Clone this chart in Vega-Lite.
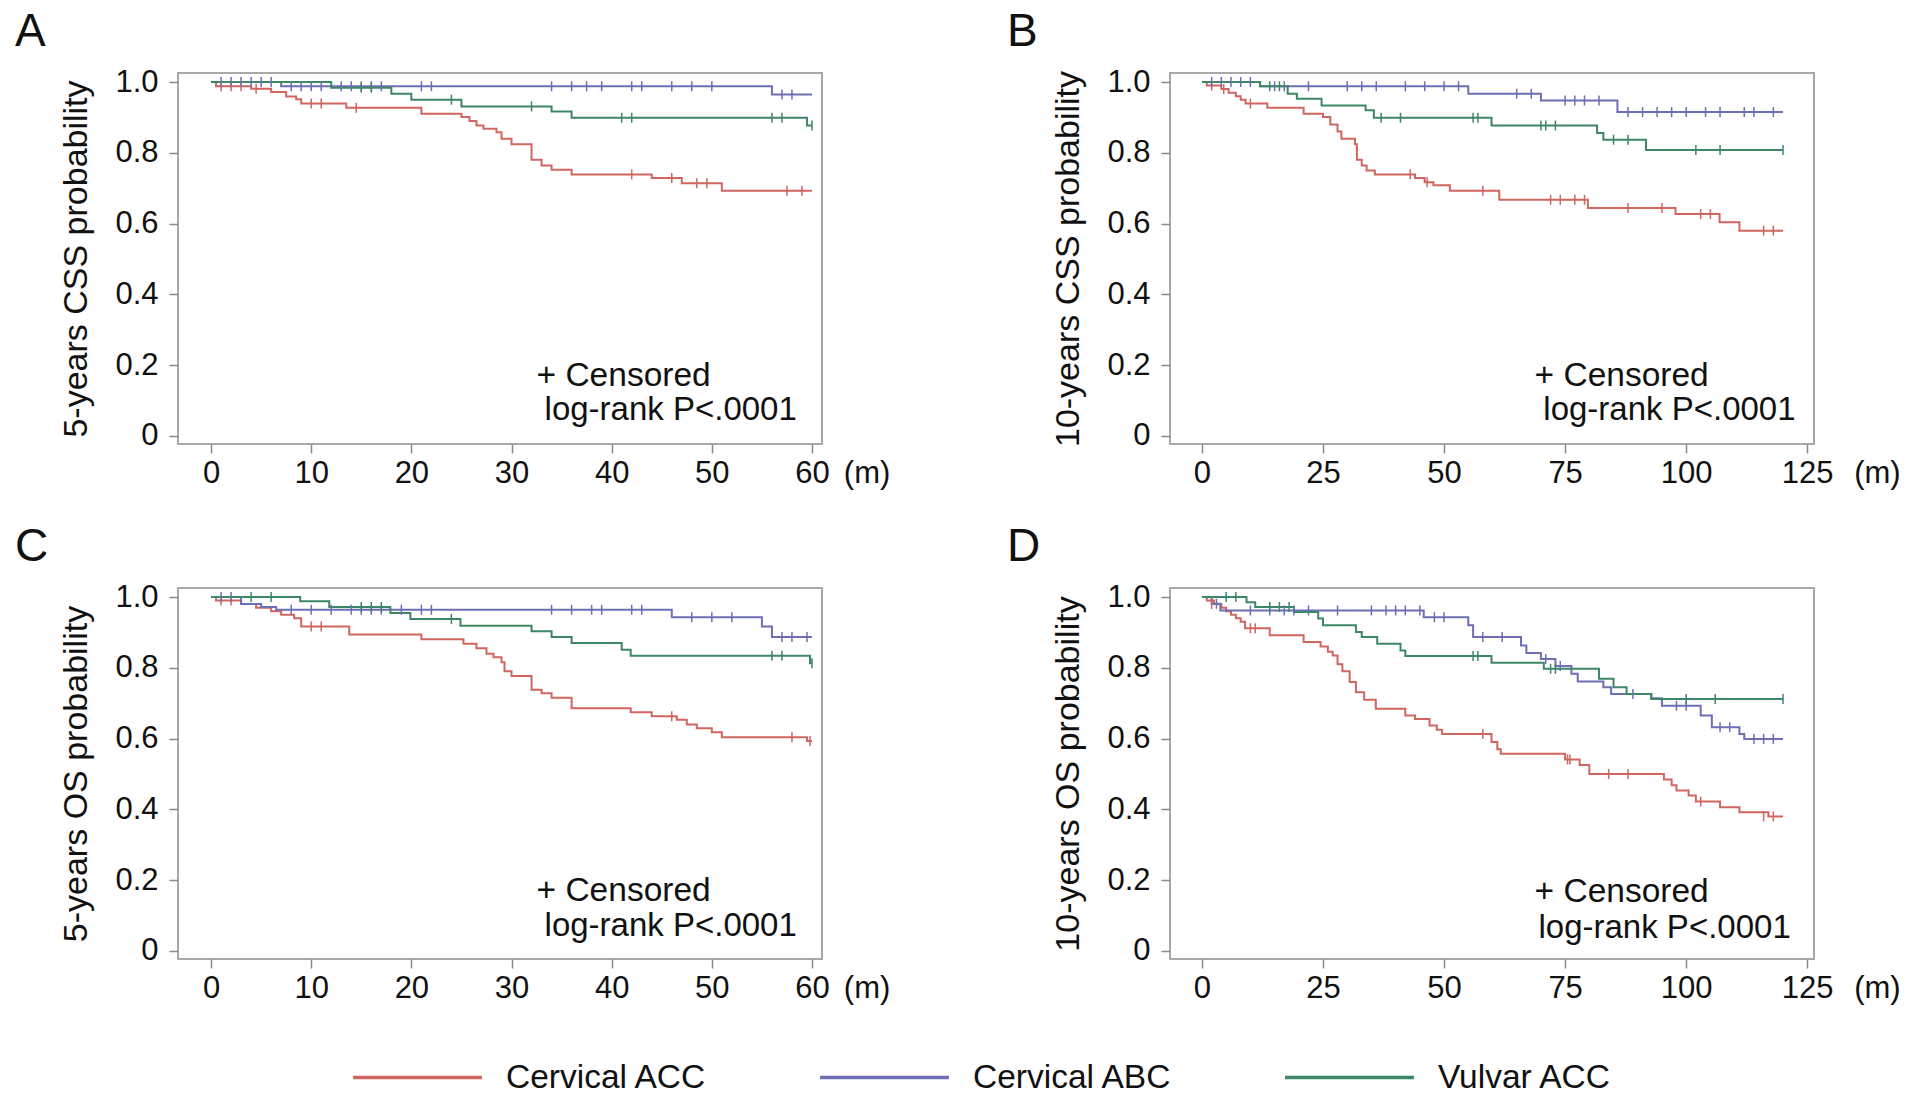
{
  "$schema": "https://vega.github.io/schema/vega-lite/v6.json",
  "padding": {"left": 13, "top": 8, "right": 0, "bottom": 0},
  "background": "white",
  "config": {
    "font": "Liberation Sans",
    "view": {"stroke": "#a8a8a8", "strokeWidth": 2},
    "axis": {"domain": false, "grid": false, "tickColor": "#8a8a8a", "tickSize": 9, "tickWidth": 1.5, "labelFontSize": 31, "labelColor": "#111", "titleFontSize": 34, "titleFontWeight": "normal", "titleColor": "#111", "titlePadding": 21},
    "axisX": {"labelPadding": 5},
    "axisY": {"labelPadding": 11},
    "title": {"anchor": "start", "fontSize": 46, "fontWeight": "normal", "color": "#111", "dx": -45, "offset": 10, "frame": "bounds"},
    "text": {"color": "#111"}
  },
  "columns": 2,
  "bounds": "flush",
  "spacing": {"row": 144, "column": 348},
  "resolve": {"scale": {"color": "shared"}},
  "datasets": {
    "steps": [
      {"p":"A","g":"Cervical ACC","t":0,"s":1},{"p":"A","g":"Cervical ACC","t":0.5,"s":0.988},{"p":"A","g":"Cervical ACC","t":4,"s":0.981},{"p":"A","g":"Cervical ACC","t":6,"s":0.972},{"p":"A","g":"Cervical ACC","t":7.5,"s":0.959},{"p":"A","g":"Cervical ACC","t":8.5,"s":0.951},{"p":"A","g":"Cervical ACC","t":9,"s":0.939},{"p":"A","g":"Cervical ACC","t":13.5,"s":0.927},{"p":"A","g":"Cervical ACC","t":21,"s":0.91},{"p":"A","g":"Cervical ACC","t":25,"s":0.901},{"p":"A","g":"Cervical ACC","t":25.8,"s":0.89},{"p":"A","g":"Cervical ACC","t":26.5,"s":0.877},{"p":"A","g":"Cervical ACC","t":27.2,"s":0.868},{"p":"A","g":"Cervical ACC","t":28.5,"s":0.858},{"p":"A","g":"Cervical ACC","t":29,"s":0.84},{"p":"A","g":"Cervical ACC","t":30,"s":0.824},{"p":"A","g":"Cervical ACC","t":32,"s":0.78},{"p":"A","g":"Cervical ACC","t":33,"s":0.764},{"p":"A","g":"Cervical ACC","t":34,"s":0.752},{"p":"A","g":"Cervical ACC","t":36,"s":0.739},{"p":"A","g":"Cervical ACC","t":44,"s":0.729},{"p":"A","g":"Cervical ACC","t":47,"s":0.714},{"p":"A","g":"Cervical ACC","t":51,"s":0.693},{"p":"A","g":"Cervical ACC","t":60,"s":0.693},
      {"p":"A","g":"Cervical ABC","t":0,"s":1},{"p":"A","g":"Cervical ABC","t":7,"s":0.988},{"p":"A","g":"Cervical ABC","t":56,"s":0.965},{"p":"A","g":"Cervical ABC","t":60,"s":0.965},
      {"p":"A","g":"Vulvar ACC","t":0,"s":1},{"p":"A","g":"Vulvar ACC","t":12,"s":0.984},{"p":"A","g":"Vulvar ACC","t":18,"s":0.967},{"p":"A","g":"Vulvar ACC","t":20,"s":0.95},{"p":"A","g":"Vulvar ACC","t":25,"s":0.931},{"p":"A","g":"Vulvar ACC","t":34,"s":0.917},{"p":"A","g":"Vulvar ACC","t":36,"s":0.899},{"p":"A","g":"Vulvar ACC","t":59.5,"s":0.877},{"p":"A","g":"Vulvar ACC","t":60,"s":0.877},

      {"p":"B","g":"Cervical ACC","t":0,"s":1},{"p":"B","g":"Cervical ACC","t":1,"s":0.99},{"p":"B","g":"Cervical ACC","t":4,"s":0.98},{"p":"B","g":"Cervical ACC","t":5.5,"s":0.97},{"p":"B","g":"Cervical ACC","t":7,"s":0.96},{"p":"B","g":"Cervical ACC","t":8,"s":0.95},{"p":"B","g":"Cervical ACC","t":9,"s":0.939},{"p":"B","g":"Cervical ACC","t":13.5,"s":0.927},{"p":"B","g":"Cervical ACC","t":21,"s":0.91},{"p":"B","g":"Cervical ACC","t":25,"s":0.901},{"p":"B","g":"Cervical ACC","t":26.5,"s":0.88},{"p":"B","g":"Cervical ACC","t":28,"s":0.86},{"p":"B","g":"Cervical ACC","t":28.8,"s":0.84},{"p":"B","g":"Cervical ACC","t":31.6,"s":0.824},{"p":"B","g":"Cervical ACC","t":32,"s":0.78},{"p":"B","g":"Cervical ACC","t":33,"s":0.764},{"p":"B","g":"Cervical ACC","t":34,"s":0.75},{"p":"B","g":"Cervical ACC","t":35.7,"s":0.739},{"p":"B","g":"Cervical ACC","t":44,"s":0.729},{"p":"B","g":"Cervical ACC","t":46,"s":0.717},{"p":"B","g":"Cervical ACC","t":47.8,"s":0.708},{"p":"B","g":"Cervical ACC","t":51.2,"s":0.693},{"p":"B","g":"Cervical ACC","t":61.4,"s":0.667},{"p":"B","g":"Cervical ACC","t":79.7,"s":0.644},{"p":"B","g":"Cervical ACC","t":97.8,"s":0.627},{"p":"B","g":"Cervical ACC","t":106.9,"s":0.604},{"p":"B","g":"Cervical ACC","t":111,"s":0.58},{"p":"B","g":"Cervical ACC","t":120,"s":0.58},
      {"p":"B","g":"Cervical ABC","t":0,"s":1},{"p":"B","g":"Cervical ABC","t":12,"s":0.988},{"p":"B","g":"Cervical ABC","t":55,"s":0.967},{"p":"B","g":"Cervical ABC","t":70,"s":0.948},{"p":"B","g":"Cervical ABC","t":85.8,"s":0.915},{"p":"B","g":"Cervical ABC","t":120,"s":0.915},
      {"p":"B","g":"Vulvar ACC","t":0,"s":1},{"p":"B","g":"Vulvar ACC","t":12,"s":0.988},{"p":"B","g":"Vulvar ACC","t":17.7,"s":0.967},{"p":"B","g":"Vulvar ACC","t":19.6,"s":0.953},{"p":"B","g":"Vulvar ACC","t":24.7,"s":0.934},{"p":"B","g":"Vulvar ACC","t":33.8,"s":0.92},{"p":"B","g":"Vulvar ACC","t":35.5,"s":0.899},{"p":"B","g":"Vulvar ACC","t":59.8,"s":0.877},{"p":"B","g":"Vulvar ACC","t":81.6,"s":0.856},{"p":"B","g":"Vulvar ACC","t":82.9,"s":0.837},{"p":"B","g":"Vulvar ACC","t":91.7,"s":0.808},{"p":"B","g":"Vulvar ACC","t":120,"s":0.808},

      {"p":"C","g":"Cervical ACC","t":0,"s":1},{"p":"C","g":"Cervical ACC","t":0.5,"s":0.99},{"p":"C","g":"Cervical ACC","t":3,"s":0.98},{"p":"C","g":"Cervical ACC","t":4.5,"s":0.97},{"p":"C","g":"Cervical ACC","t":6,"s":0.96},{"p":"C","g":"Cervical ACC","t":7,"s":0.95},{"p":"C","g":"Cervical ACC","t":8.3,"s":0.94},{"p":"C","g":"Cervical ACC","t":9,"s":0.917},{"p":"C","g":"Cervical ACC","t":13.8,"s":0.894},{"p":"C","g":"Cervical ACC","t":21,"s":0.881},{"p":"C","g":"Cervical ACC","t":25.2,"s":0.868},{"p":"C","g":"Cervical ACC","t":26.5,"s":0.855},{"p":"C","g":"Cervical ACC","t":27.5,"s":0.84},{"p":"C","g":"Cervical ACC","t":28.2,"s":0.83},{"p":"C","g":"Cervical ACC","t":29,"s":0.816},{"p":"C","g":"Cervical ACC","t":29.3,"s":0.79},{"p":"C","g":"Cervical ACC","t":30,"s":0.777},{"p":"C","g":"Cervical ACC","t":32,"s":0.738},{"p":"C","g":"Cervical ACC","t":33,"s":0.728},{"p":"C","g":"Cervical ACC","t":34,"s":0.715},{"p":"C","g":"Cervical ACC","t":36,"s":0.686},{"p":"C","g":"Cervical ACC","t":41.9,"s":0.674},{"p":"C","g":"Cervical ACC","t":44,"s":0.663},{"p":"C","g":"Cervical ACC","t":46.5,"s":0.653},{"p":"C","g":"Cervical ACC","t":47.5,"s":0.64},{"p":"C","g":"Cervical ACC","t":48.5,"s":0.629},{"p":"C","g":"Cervical ACC","t":50,"s":0.618},{"p":"C","g":"Cervical ACC","t":51,"s":0.604},{"p":"C","g":"Cervical ACC","t":59.5,"s":0.593},{"p":"C","g":"Cervical ACC","t":60,"s":0.593},
      {"p":"C","g":"Cervical ABC","t":0,"s":1},{"p":"C","g":"Cervical ABC","t":3,"s":0.98},{"p":"C","g":"Cervical ABC","t":5,"s":0.972},{"p":"C","g":"Cervical ABC","t":6.5,"s":0.964},{"p":"C","g":"Cervical ABC","t":46,"s":0.943},{"p":"C","g":"Cervical ABC","t":55,"s":0.917},{"p":"C","g":"Cervical ABC","t":56,"s":0.887},{"p":"C","g":"Cervical ABC","t":60,"s":0.887},
      {"p":"C","g":"Vulvar ACC","t":0,"s":1},{"p":"C","g":"Vulvar ACC","t":8.9,"s":0.988},{"p":"C","g":"Vulvar ACC","t":11.8,"s":0.972},{"p":"C","g":"Vulvar ACC","t":17.9,"s":0.955},{"p":"C","g":"Vulvar ACC","t":19.9,"s":0.938},{"p":"C","g":"Vulvar ACC","t":24.9,"s":0.919},{"p":"C","g":"Vulvar ACC","t":32,"s":0.903},{"p":"C","g":"Vulvar ACC","t":34,"s":0.887},{"p":"C","g":"Vulvar ACC","t":36,"s":0.87},{"p":"C","g":"Vulvar ACC","t":41,"s":0.851},{"p":"C","g":"Vulvar ACC","t":41.9,"s":0.834},{"p":"C","g":"Vulvar ACC","t":59.8,"s":0.813},{"p":"C","g":"Vulvar ACC","t":60,"s":0.813},

      {"p":"D","g":"Cervical ACC","t":0,"s":1},{"p":"D","g":"Cervical ACC","t":1,"s":0.99},{"p":"D","g":"Cervical ACC","t":2.5,"s":0.98},{"p":"D","g":"Cervical ACC","t":4,"s":0.97},{"p":"D","g":"Cervical ACC","t":5,"s":0.96},{"p":"D","g":"Cervical ACC","t":6,"s":0.95},{"p":"D","g":"Cervical ACC","t":7,"s":0.94},{"p":"D","g":"Cervical ACC","t":8,"s":0.93},{"p":"D","g":"Cervical ACC","t":8.9,"s":0.912},{"p":"D","g":"Cervical ACC","t":14,"s":0.892},{"p":"D","g":"Cervical ACC","t":21,"s":0.873},{"p":"D","g":"Cervical ACC","t":24.5,"s":0.86},{"p":"D","g":"Cervical ACC","t":26,"s":0.845},{"p":"D","g":"Cervical ACC","t":27,"s":0.835},{"p":"D","g":"Cervical ACC","t":28,"s":0.81},{"p":"D","g":"Cervical ACC","t":29,"s":0.79},{"p":"D","g":"Cervical ACC","t":30.5,"s":0.76},{"p":"D","g":"Cervical ACC","t":31.8,"s":0.731},{"p":"D","g":"Cervical ACC","t":33.5,"s":0.71},{"p":"D","g":"Cervical ACC","t":35.9,"s":0.684},{"p":"D","g":"Cervical ACC","t":42,"s":0.665},{"p":"D","g":"Cervical ACC","t":44,"s":0.655},{"p":"D","g":"Cervical ACC","t":47,"s":0.637},{"p":"D","g":"Cervical ACC","t":48.5,"s":0.625},{"p":"D","g":"Cervical ACC","t":49.6,"s":0.613},{"p":"D","g":"Cervical ACC","t":59.8,"s":0.59},{"p":"D","g":"Cervical ACC","t":61,"s":0.57},{"p":"D","g":"Cervical ACC","t":61.7,"s":0.557},{"p":"D","g":"Cervical ACC","t":75,"s":0.541},{"p":"D","g":"Cervical ACC","t":78,"s":0.525},{"p":"D","g":"Cervical ACC","t":80,"s":0.5},{"p":"D","g":"Cervical ACC","t":95.4,"s":0.484},{"p":"D","g":"Cervical ACC","t":97,"s":0.468},{"p":"D","g":"Cervical ACC","t":98,"s":0.453},{"p":"D","g":"Cervical ACC","t":100.5,"s":0.439},{"p":"D","g":"Cervical ACC","t":102,"s":0.422},{"p":"D","g":"Cervical ACC","t":107,"s":0.406},{"p":"D","g":"Cervical ACC","t":111,"s":0.392},{"p":"D","g":"Cervical ACC","t":117,"s":0.38},{"p":"D","g":"Cervical ACC","t":120,"s":0.38},
      {"p":"D","g":"Cervical ABC","t":0,"s":1},{"p":"D","g":"Cervical ABC","t":2,"s":0.981},{"p":"D","g":"Cervical ABC","t":3.8,"s":0.962},{"p":"D","g":"Cervical ABC","t":45.8,"s":0.943},{"p":"D","g":"Cervical ABC","t":55,"s":0.92},{"p":"D","g":"Cervical ABC","t":56,"s":0.887},{"p":"D","g":"Cervical ABC","t":65.9,"s":0.863},{"p":"D","g":"Cervical ABC","t":67,"s":0.842},{"p":"D","g":"Cervical ABC","t":70,"s":0.825},{"p":"D","g":"Cervical ABC","t":73,"s":0.805},{"p":"D","g":"Cervical ABC","t":76.3,"s":0.783},{"p":"D","g":"Cervical ABC","t":77.6,"s":0.761},{"p":"D","g":"Cervical ABC","t":82.9,"s":0.745},{"p":"D","g":"Cervical ABC","t":84.5,"s":0.726},{"p":"D","g":"Cervical ABC","t":92.8,"s":0.714},{"p":"D","g":"Cervical ABC","t":95,"s":0.693},{"p":"D","g":"Cervical ABC","t":103,"s":0.665},{"p":"D","g":"Cervical ABC","t":105.3,"s":0.632},{"p":"D","g":"Cervical ABC","t":111,"s":0.613},{"p":"D","g":"Cervical ABC","t":112,"s":0.599},{"p":"D","g":"Cervical ABC","t":120,"s":0.599},
      {"p":"D","g":"Vulvar ACC","t":0,"s":1},{"p":"D","g":"Vulvar ACC","t":9.2,"s":0.985},{"p":"D","g":"Vulvar ACC","t":11,"s":0.972},{"p":"D","g":"Vulvar ACC","t":19,"s":0.958},{"p":"D","g":"Vulvar ACC","t":24,"s":0.939},{"p":"D","g":"Vulvar ACC","t":25,"s":0.92},{"p":"D","g":"Vulvar ACC","t":31.8,"s":0.901},{"p":"D","g":"Vulvar ACC","t":33,"s":0.887},{"p":"D","g":"Vulvar ACC","t":36.2,"s":0.868},{"p":"D","g":"Vulvar ACC","t":41,"s":0.849},{"p":"D","g":"Vulvar ACC","t":42,"s":0.833},{"p":"D","g":"Vulvar ACC","t":59.8,"s":0.814},{"p":"D","g":"Vulvar ACC","t":70.6,"s":0.797},{"p":"D","g":"Vulvar ACC","t":82,"s":0.769},{"p":"D","g":"Vulvar ACC","t":85,"s":0.745},{"p":"D","g":"Vulvar ACC","t":87.7,"s":0.726},{"p":"D","g":"Vulvar ACC","t":92.8,"s":0.712},{"p":"D","g":"Vulvar ACC","t":120,"s":0.712}
    ],
    "cens": [
      {"p":"A","g":"Cervical ACC","t":1,"s":0.988},{"p":"A","g":"Cervical ACC","t":2,"s":0.988},{"p":"A","g":"Cervical ACC","t":3,"s":0.988},{"p":"A","g":"Cervical ACC","t":4.5,"s":0.981},{"p":"A","g":"Cervical ACC","t":10,"s":0.939},{"p":"A","g":"Cervical ACC","t":11,"s":0.939},{"p":"A","g":"Cervical ACC","t":14.5,"s":0.927},{"p":"A","g":"Cervical ACC","t":42,"s":0.739},{"p":"A","g":"Cervical ACC","t":46,"s":0.729},{"p":"A","g":"Cervical ACC","t":48.5,"s":0.714},{"p":"A","g":"Cervical ACC","t":49.5,"s":0.714},{"p":"A","g":"Cervical ACC","t":57.5,"s":0.693},{"p":"A","g":"Cervical ACC","t":59,"s":0.693},
      {"p":"A","g":"Cervical ABC","t":1,"s":1},{"p":"A","g":"Cervical ABC","t":2,"s":1},{"p":"A","g":"Cervical ABC","t":3,"s":1},{"p":"A","g":"Cervical ABC","t":4,"s":1},{"p":"A","g":"Cervical ABC","t":5,"s":1},{"p":"A","g":"Cervical ABC","t":6,"s":1},{"p":"A","g":"Cervical ABC","t":8,"s":0.988},{"p":"A","g":"Cervical ABC","t":9,"s":0.988},{"p":"A","g":"Cervical ABC","t":10,"s":0.988},{"p":"A","g":"Cervical ABC","t":11,"s":0.988},{"p":"A","g":"Cervical ABC","t":13,"s":0.988},{"p":"A","g":"Cervical ABC","t":14,"s":0.988},{"p":"A","g":"Cervical ABC","t":15,"s":0.988},{"p":"A","g":"Cervical ABC","t":16,"s":0.988},{"p":"A","g":"Cervical ABC","t":17,"s":0.988},{"p":"A","g":"Cervical ABC","t":21,"s":0.988},{"p":"A","g":"Cervical ABC","t":22,"s":0.988},{"p":"A","g":"Cervical ABC","t":34,"s":0.988},{"p":"A","g":"Cervical ABC","t":36,"s":0.988},{"p":"A","g":"Cervical ABC","t":37.5,"s":0.988},{"p":"A","g":"Cervical ABC","t":39,"s":0.988},{"p":"A","g":"Cervical ABC","t":42,"s":0.988},{"p":"A","g":"Cervical ABC","t":43,"s":0.988},{"p":"A","g":"Cervical ABC","t":46,"s":0.988},{"p":"A","g":"Cervical ABC","t":48,"s":0.988},{"p":"A","g":"Cervical ABC","t":50,"s":0.988},{"p":"A","g":"Cervical ABC","t":57,"s":0.965},{"p":"A","g":"Cervical ABC","t":58,"s":0.965},
      {"p":"A","g":"Vulvar ACC","t":15,"s":0.984},{"p":"A","g":"Vulvar ACC","t":16,"s":0.984},{"p":"A","g":"Vulvar ACC","t":24,"s":0.95},{"p":"A","g":"Vulvar ACC","t":32,"s":0.931},{"p":"A","g":"Vulvar ACC","t":41,"s":0.899},{"p":"A","g":"Vulvar ACC","t":42,"s":0.899},{"p":"A","g":"Vulvar ACC","t":56,"s":0.899},{"p":"A","g":"Vulvar ACC","t":57,"s":0.899},{"p":"A","g":"Vulvar ACC","t":60,"s":0.877},

      {"p":"B","g":"Cervical ACC","t":2,"s":0.99},{"p":"B","g":"Cervical ACC","t":4.5,"s":0.98},{"p":"B","g":"Cervical ACC","t":10,"s":0.939},{"p":"B","g":"Cervical ACC","t":43,"s":0.739},{"p":"B","g":"Cervical ACC","t":46.5,"s":0.717},{"p":"B","g":"Cervical ACC","t":58,"s":0.693},{"p":"B","g":"Cervical ACC","t":72,"s":0.667},{"p":"B","g":"Cervical ACC","t":74,"s":0.667},{"p":"B","g":"Cervical ACC","t":77,"s":0.667},{"p":"B","g":"Cervical ACC","t":79,"s":0.667},{"p":"B","g":"Cervical ACC","t":88,"s":0.644},{"p":"B","g":"Cervical ACC","t":95,"s":0.644},{"p":"B","g":"Cervical ACC","t":103,"s":0.627},{"p":"B","g":"Cervical ACC","t":105,"s":0.627},{"p":"B","g":"Cervical ACC","t":116,"s":0.58},{"p":"B","g":"Cervical ACC","t":118,"s":0.58},
      {"p":"B","g":"Cervical ABC","t":2,"s":1},{"p":"B","g":"Cervical ABC","t":4,"s":1},{"p":"B","g":"Cervical ABC","t":6,"s":1},{"p":"B","g":"Cervical ABC","t":8,"s":1},{"p":"B","g":"Cervical ABC","t":10,"s":1},{"p":"B","g":"Cervical ABC","t":15,"s":0.988},{"p":"B","g":"Cervical ABC","t":17,"s":0.988},{"p":"B","g":"Cervical ABC","t":22,"s":0.988},{"p":"B","g":"Cervical ABC","t":30,"s":0.988},{"p":"B","g":"Cervical ABC","t":33,"s":0.988},{"p":"B","g":"Cervical ABC","t":36,"s":0.988},{"p":"B","g":"Cervical ABC","t":42,"s":0.988},{"p":"B","g":"Cervical ABC","t":46,"s":0.988},{"p":"B","g":"Cervical ABC","t":50,"s":0.988},{"p":"B","g":"Cervical ABC","t":53,"s":0.988},{"p":"B","g":"Cervical ABC","t":65,"s":0.967},{"p":"B","g":"Cervical ABC","t":68,"s":0.967},{"p":"B","g":"Cervical ABC","t":75,"s":0.948},{"p":"B","g":"Cervical ABC","t":77,"s":0.948},{"p":"B","g":"Cervical ABC","t":79,"s":0.948},{"p":"B","g":"Cervical ABC","t":82,"s":0.948},{"p":"B","g":"Cervical ABC","t":88,"s":0.915},{"p":"B","g":"Cervical ABC","t":91,"s":0.915},{"p":"B","g":"Cervical ABC","t":94,"s":0.915},{"p":"B","g":"Cervical ABC","t":97,"s":0.915},{"p":"B","g":"Cervical ABC","t":100,"s":0.915},{"p":"B","g":"Cervical ABC","t":104,"s":0.915},{"p":"B","g":"Cervical ABC","t":107,"s":0.915},{"p":"B","g":"Cervical ABC","t":112,"s":0.915},{"p":"B","g":"Cervical ABC","t":114,"s":0.915},{"p":"B","g":"Cervical ABC","t":118,"s":0.915},
      {"p":"B","g":"Vulvar ACC","t":14,"s":0.988},{"p":"B","g":"Vulvar ACC","t":16,"s":0.988},{"p":"B","g":"Vulvar ACC","t":37,"s":0.899},{"p":"B","g":"Vulvar ACC","t":41,"s":0.899},{"p":"B","g":"Vulvar ACC","t":56,"s":0.899},{"p":"B","g":"Vulvar ACC","t":57,"s":0.899},{"p":"B","g":"Vulvar ACC","t":70,"s":0.877},{"p":"B","g":"Vulvar ACC","t":71,"s":0.877},{"p":"B","g":"Vulvar ACC","t":73,"s":0.877},{"p":"B","g":"Vulvar ACC","t":85,"s":0.837},{"p":"B","g":"Vulvar ACC","t":88,"s":0.837},{"p":"B","g":"Vulvar ACC","t":102,"s":0.808},{"p":"B","g":"Vulvar ACC","t":107,"s":0.808},{"p":"B","g":"Vulvar ACC","t":120,"s":0.808},

      {"p":"C","g":"Cervical ACC","t":1,"s":0.99},{"p":"C","g":"Cervical ACC","t":2,"s":0.99},{"p":"C","g":"Cervical ACC","t":10,"s":0.917},{"p":"C","g":"Cervical ACC","t":11,"s":0.917},{"p":"C","g":"Cervical ACC","t":46,"s":0.663},{"p":"C","g":"Cervical ACC","t":58,"s":0.604},{"p":"C","g":"Cervical ACC","t":59.8,"s":0.593},
      {"p":"C","g":"Cervical ABC","t":1,"s":1},{"p":"C","g":"Cervical ABC","t":2,"s":1},{"p":"C","g":"Cervical ABC","t":8,"s":0.964},{"p":"C","g":"Cervical ABC","t":10,"s":0.964},{"p":"C","g":"Cervical ABC","t":12,"s":0.964},{"p":"C","g":"Cervical ABC","t":14,"s":0.964},{"p":"C","g":"Cervical ABC","t":15,"s":0.964},{"p":"C","g":"Cervical ABC","t":16,"s":0.964},{"p":"C","g":"Cervical ABC","t":17,"s":0.964},{"p":"C","g":"Cervical ABC","t":19,"s":0.964},{"p":"C","g":"Cervical ABC","t":21,"s":0.964},{"p":"C","g":"Cervical ABC","t":22,"s":0.964},{"p":"C","g":"Cervical ABC","t":34,"s":0.964},{"p":"C","g":"Cervical ABC","t":36,"s":0.964},{"p":"C","g":"Cervical ABC","t":38,"s":0.964},{"p":"C","g":"Cervical ABC","t":39,"s":0.964},{"p":"C","g":"Cervical ABC","t":42,"s":0.964},{"p":"C","g":"Cervical ABC","t":43,"s":0.964},{"p":"C","g":"Cervical ABC","t":48,"s":0.943},{"p":"C","g":"Cervical ABC","t":50,"s":0.943},{"p":"C","g":"Cervical ABC","t":52,"s":0.943},{"p":"C","g":"Cervical ABC","t":57,"s":0.887},{"p":"C","g":"Cervical ABC","t":58,"s":0.887},{"p":"C","g":"Cervical ABC","t":59.5,"s":0.887},
      {"p":"C","g":"Vulvar ACC","t":4,"s":1},{"p":"C","g":"Vulvar ACC","t":6,"s":1},{"p":"C","g":"Vulvar ACC","t":15,"s":0.972},{"p":"C","g":"Vulvar ACC","t":16,"s":0.972},{"p":"C","g":"Vulvar ACC","t":17,"s":0.972},{"p":"C","g":"Vulvar ACC","t":24,"s":0.938},{"p":"C","g":"Vulvar ACC","t":56,"s":0.834},{"p":"C","g":"Vulvar ACC","t":57,"s":0.834},{"p":"C","g":"Vulvar ACC","t":60,"s":0.813},

      {"p":"D","g":"Cervical ACC","t":2,"s":0.98},{"p":"D","g":"Cervical ACC","t":10,"s":0.912},{"p":"D","g":"Cervical ACC","t":11,"s":0.912},{"p":"D","g":"Cervical ACC","t":58,"s":0.613},{"p":"D","g":"Cervical ACC","t":75.5,"s":0.541},{"p":"D","g":"Cervical ACC","t":76,"s":0.541},{"p":"D","g":"Cervical ACC","t":84,"s":0.5},{"p":"D","g":"Cervical ACC","t":88,"s":0.5},{"p":"D","g":"Cervical ACC","t":103,"s":0.422},{"p":"D","g":"Cervical ACC","t":116,"s":0.38},{"p":"D","g":"Cervical ACC","t":118,"s":0.38},
      {"p":"D","g":"Cervical ABC","t":3,"s":0.981},{"p":"D","g":"Cervical ABC","t":10,"s":0.962},{"p":"D","g":"Cervical ABC","t":14,"s":0.962},{"p":"D","g":"Cervical ABC","t":17,"s":0.962},{"p":"D","g":"Cervical ABC","t":19,"s":0.962},{"p":"D","g":"Cervical ABC","t":22,"s":0.962},{"p":"D","g":"Cervical ABC","t":28,"s":0.962},{"p":"D","g":"Cervical ABC","t":35,"s":0.962},{"p":"D","g":"Cervical ABC","t":38,"s":0.962},{"p":"D","g":"Cervical ABC","t":40,"s":0.962},{"p":"D","g":"Cervical ABC","t":42,"s":0.962},{"p":"D","g":"Cervical ABC","t":45,"s":0.962},{"p":"D","g":"Cervical ABC","t":48,"s":0.943},{"p":"D","g":"Cervical ABC","t":50,"s":0.943},{"p":"D","g":"Cervical ABC","t":58,"s":0.887},{"p":"D","g":"Cervical ABC","t":62,"s":0.887},{"p":"D","g":"Cervical ABC","t":71,"s":0.825},{"p":"D","g":"Cervical ABC","t":74,"s":0.805},{"p":"D","g":"Cervical ABC","t":89,"s":0.726},{"p":"D","g":"Cervical ABC","t":98,"s":0.693},{"p":"D","g":"Cervical ABC","t":100,"s":0.693},{"p":"D","g":"Cervical ABC","t":107,"s":0.632},{"p":"D","g":"Cervical ABC","t":109,"s":0.632},{"p":"D","g":"Cervical ABC","t":114,"s":0.599},{"p":"D","g":"Cervical ABC","t":116,"s":0.599},{"p":"D","g":"Cervical ABC","t":118,"s":0.599},
      {"p":"D","g":"Vulvar ACC","t":5,"s":1},{"p":"D","g":"Vulvar ACC","t":7,"s":1},{"p":"D","g":"Vulvar ACC","t":14,"s":0.972},{"p":"D","g":"Vulvar ACC","t":16,"s":0.972},{"p":"D","g":"Vulvar ACC","t":18,"s":0.972},{"p":"D","g":"Vulvar ACC","t":56,"s":0.833},{"p":"D","g":"Vulvar ACC","t":57,"s":0.833},{"p":"D","g":"Vulvar ACC","t":72,"s":0.797},{"p":"D","g":"Vulvar ACC","t":73,"s":0.797},{"p":"D","g":"Vulvar ACC","t":100,"s":0.712},{"p":"D","g":"Vulvar ACC","t":106,"s":0.712},{"p":"D","g":"Vulvar ACC","t":120,"s":0.712}
    ]
  },
  "concat": [
    {
      "width": 644, "height": 371,
      "title": {"text": "A"},
      "layer": [
        {"data": {"name": "steps"}, "transform": [{"filter": "datum.p == 'A'"}],
         "mark": {"type": "line", "interpolate": "step-after", "strokeWidth": 2},
         "encoding": {
           "x": {"field": "t", "type": "quantitative", "title": null, "scale": {"domain": [-3.3, 61], "nice": false, "zero": false}, "axis": {"values": [0, 10, 20, 30, 40, 50, 60]}},
           "y": {"field": "s", "type": "quantitative", "title": "5-years CSS probability", "scale": {"domain": [-0.023, 1.0255], "nice": false, "zero": false}, "axis": {"values": [0, 0.2, 0.4, 0.6, 0.8, 1], "labelExpr": "datum.value == 0 ? '0' : format(datum.value, '.1f')"}},
           "color": {"field": "g", "type": "nominal", "scale": {"domain": ["Cervical ACC", "Cervical ABC", "Vulvar ACC"], "range": ["#cf6660", "#6e6eb4", "#3d8767"]},
             "legend": {"orient": "none", "legendX": 173, "legendY": 938, "padding": 0, "direction": "horizontal", "title": null, "symbolType": "stroke", "symbolSize": 16600, "symbolStrokeWidth": 3.5, "labelFontSize": 33.5, "labelColor": "#111", "labelOffset": 22, "labelLimit": 0, "columnPadding": 105}}
         }},
        {"data": {"name": "cens"}, "transform": [{"filter": "datum.p == 'A'"}],
         "mark": {"type": "point", "shape": "M0,-1L0,1", "filled": false, "size": 100, "strokeWidth": 1.5, "opacity": 1},
         "encoding": {
           "x": {"field": "t", "type": "quantitative", "title": null},
           "y": {"field": "s", "type": "quantitative", "title": "5-years CSS probability"},
           "color": {"field": "g", "type": "nominal"}
         }},
        {"data": {"values": [{}]}, "mark": {"type": "text", "text": "+ Censored", "align": "left", "baseline": "alphabetic", "fontSize": 33.5},
         "encoding": {"x": {"datum": 32.5, "type": "quantitative", "title": null}, "y": {"datum": 0.14, "type": "quantitative", "title": "5-years CSS probability"}}},
        {"data": {"values": [{}]}, "mark": {"type": "text", "text": "log-rank  P<.0001", "align": "left", "baseline": "alphabetic", "fontSize": 33},
         "encoding": {"x": {"datum": 33.3, "type": "quantitative", "title": null}, "y": {"datum": 0.044, "type": "quantitative", "title": "5-years CSS probability"}}},
        {"data": {"values": [{}]}, "mark": {"type": "text", "text": "(m)", "align": "center", "baseline": "middle", "fontSize": 31},
         "encoding": {"x": {"datum": 65.5, "type": "quantitative", "title": null}, "y": {"datum": -0.108, "type": "quantitative", "title": "5-years CSS probability"}}}
      ]
    },
    {
      "width": 644, "height": 371,
      "title": {"text": "B"},
      "layer": [
        {"data": {"name": "steps"}, "transform": [{"filter": "datum.p == 'B'"}],
         "mark": {"type": "line", "interpolate": "step-after", "strokeWidth": 2},
         "encoding": {
           "x": {"field": "t", "type": "quantitative", "title": null, "scale": {"domain": [-6.6, 126.4], "nice": false, "zero": false}, "axis": {"values": [0, 25, 50, 75, 100, 125]}},
           "y": {"field": "s", "type": "quantitative", "title": "10-years CSS probability", "scale": {"domain": [-0.023, 1.0255], "nice": false, "zero": false}, "axis": {"values": [0, 0.2, 0.4, 0.6, 0.8, 1], "labelExpr": "datum.value == 0 ? '0' : format(datum.value, '.1f')"}},
           "color": {"field": "g", "type": "nominal"}
         }},
        {"data": {"name": "cens"}, "transform": [{"filter": "datum.p == 'B'"}],
         "mark": {"type": "point", "shape": "M0,-1L0,1", "filled": false, "size": 100, "strokeWidth": 1.5, "opacity": 1},
         "encoding": {
           "x": {"field": "t", "type": "quantitative", "title": null},
           "y": {"field": "s", "type": "quantitative", "title": "10-years CSS probability"},
           "color": {"field": "g", "type": "nominal"}
         }},
        {"data": {"values": [{}]}, "mark": {"type": "text", "text": "+ Censored", "align": "left", "baseline": "alphabetic", "fontSize": 33.5},
         "encoding": {"x": {"datum": 68.7, "type": "quantitative", "title": null}, "y": {"datum": 0.14, "type": "quantitative", "title": "10-years CSS probability"}}},
        {"data": {"values": [{}]}, "mark": {"type": "text", "text": "log-rank  P<.0001", "align": "left", "baseline": "alphabetic", "fontSize": 33},
         "encoding": {"x": {"datum": 70.5, "type": "quantitative", "title": null}, "y": {"datum": 0.044, "type": "quantitative", "title": "10-years CSS probability"}}},
        {"data": {"values": [{}]}, "mark": {"type": "text", "text": "(m)", "align": "center", "baseline": "middle", "fontSize": 31},
         "encoding": {"x": {"datum": 139.5, "type": "quantitative", "title": null}, "y": {"datum": -0.108, "type": "quantitative", "title": "10-years CSS probability"}}}
      ]
    },
    {
      "width": 644, "height": 371,
      "title": {"text": "C"},
      "layer": [
        {"data": {"name": "steps"}, "transform": [{"filter": "datum.p == 'C'"}],
         "mark": {"type": "line", "interpolate": "step-after", "strokeWidth": 2},
         "encoding": {
           "x": {"field": "t", "type": "quantitative", "title": null, "scale": {"domain": [-3.3, 61], "nice": false, "zero": false}, "axis": {"values": [0, 10, 20, 30, 40, 50, 60]}},
           "y": {"field": "s", "type": "quantitative", "title": "5-years OS probability", "scale": {"domain": [-0.023, 1.0255], "nice": false, "zero": false}, "axis": {"values": [0, 0.2, 0.4, 0.6, 0.8, 1], "labelExpr": "datum.value == 0 ? '0' : format(datum.value, '.1f')"}},
           "color": {"field": "g", "type": "nominal"}
         }},
        {"data": {"name": "cens"}, "transform": [{"filter": "datum.p == 'C'"}],
         "mark": {"type": "point", "shape": "M0,-1L0,1", "filled": false, "size": 100, "strokeWidth": 1.5, "opacity": 1},
         "encoding": {
           "x": {"field": "t", "type": "quantitative", "title": null},
           "y": {"field": "s", "type": "quantitative", "title": "5-years OS probability"},
           "color": {"field": "g", "type": "nominal"}
         }},
        {"data": {"values": [{}]}, "mark": {"type": "text", "text": "+ Censored", "align": "left", "baseline": "alphabetic", "fontSize": 33.5},
         "encoding": {"x": {"datum": 32.5, "type": "quantitative", "title": null}, "y": {"datum": 0.141, "type": "quantitative", "title": "5-years OS probability"}}},
        {"data": {"values": [{}]}, "mark": {"type": "text", "text": "log-rank  P<.0001", "align": "left", "baseline": "alphabetic", "fontSize": 33},
         "encoding": {"x": {"datum": 33.3, "type": "quantitative", "title": null}, "y": {"datum": 0.041, "type": "quantitative", "title": "5-years OS probability"}}},
        {"data": {"values": [{}]}, "mark": {"type": "text", "text": "(m)", "align": "center", "baseline": "middle", "fontSize": 31},
         "encoding": {"x": {"datum": 65.5, "type": "quantitative", "title": null}, "y": {"datum": -0.108, "type": "quantitative", "title": "5-years OS probability"}}}
      ]
    },
    {
      "width": 644, "height": 371,
      "title": {"text": "D"},
      "layer": [
        {"data": {"name": "steps"}, "transform": [{"filter": "datum.p == 'D'"}],
         "mark": {"type": "line", "interpolate": "step-after", "strokeWidth": 2},
         "encoding": {
           "x": {"field": "t", "type": "quantitative", "title": null, "scale": {"domain": [-6.6, 126.4], "nice": false, "zero": false}, "axis": {"values": [0, 25, 50, 75, 100, 125]}},
           "y": {"field": "s", "type": "quantitative", "title": "10-years OS probability", "scale": {"domain": [-0.023, 1.0255], "nice": false, "zero": false}, "axis": {"values": [0, 0.2, 0.4, 0.6, 0.8, 1], "labelExpr": "datum.value == 0 ? '0' : format(datum.value, '.1f')"}},
           "color": {"field": "g", "type": "nominal"}
         }},
        {"data": {"name": "cens"}, "transform": [{"filter": "datum.p == 'D'"}],
         "mark": {"type": "point", "shape": "M0,-1L0,1", "filled": false, "size": 100, "strokeWidth": 1.5, "opacity": 1},
         "encoding": {
           "x": {"field": "t", "type": "quantitative", "title": null},
           "y": {"field": "s", "type": "quantitative", "title": "10-years OS probability"},
           "color": {"field": "g", "type": "nominal"}
         }},
        {"data": {"values": [{}]}, "mark": {"type": "text", "text": "+ Censored", "align": "left", "baseline": "alphabetic", "fontSize": 33.5},
         "encoding": {"x": {"datum": 68.7, "type": "quantitative", "title": null}, "y": {"datum": 0.137, "type": "quantitative", "title": "10-years OS probability"}}},
        {"data": {"values": [{}]}, "mark": {"type": "text", "text": "log-rank  P<.0001", "align": "left", "baseline": "alphabetic", "fontSize": 33},
         "encoding": {"x": {"datum": 69.5, "type": "quantitative", "title": null}, "y": {"datum": 0.037, "type": "quantitative", "title": "10-years OS probability"}}},
        {"data": {"values": [{}]}, "mark": {"type": "text", "text": "(m)", "align": "center", "baseline": "middle", "fontSize": 31},
         "encoding": {"x": {"datum": 139.5, "type": "quantitative", "title": null}, "y": {"datum": -0.108, "type": "quantitative", "title": "10-years OS probability"}}}
      ]
    }
  ]
}
